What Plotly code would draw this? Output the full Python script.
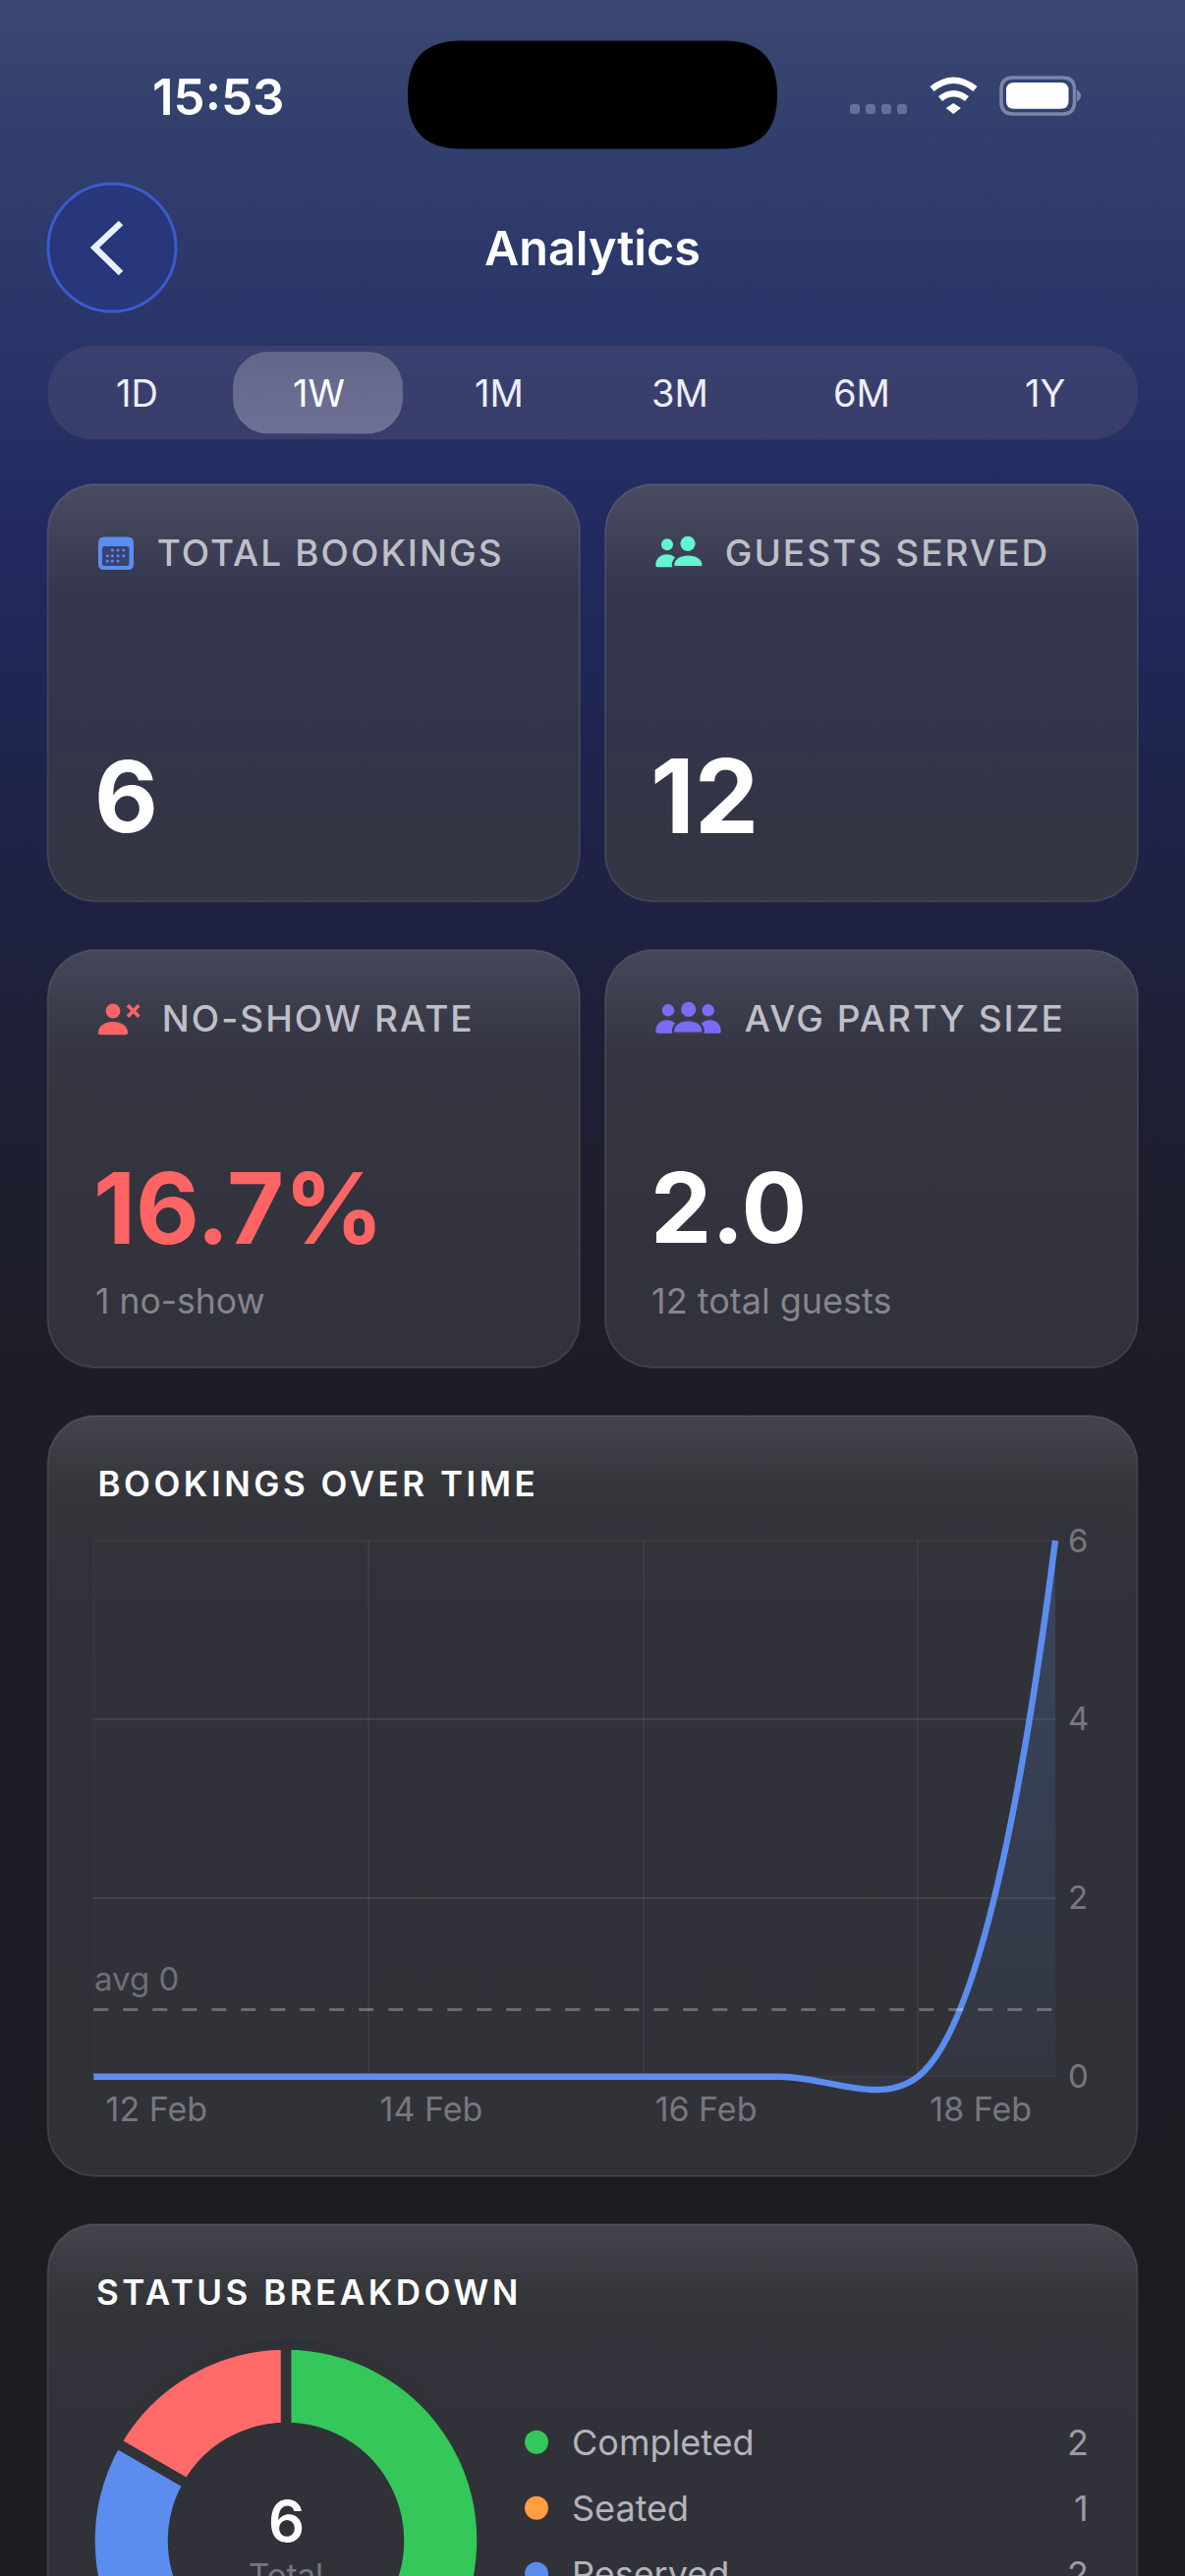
import numpy as np
import plotly.graph_objects as go

W = 1206
H = 2800  # page runs on past the window, the donut is cut by the viewport
FONT = "Inter"

# chart data
dates = ["2025-02-12", "2025-02-13", "2025-02-14", "2025-02-15",
         "2025-02-16", "2025-02-17", "2025-02-18", "2025-02-19"]
bookings = [0, 0, 0, 0, 0, 0, 0, 6]
avg_value = [0.75, 0.75]
avg_dates = ["2025-02-12", "2025-02-19"]
x_ticks = ["2025-02-12", "2025-02-14", "2025-02-16", "2025-02-18"]
x_labels = ["12 Feb", "14 Feb", "16 Feb", "18 Feb"]
y_ticks = [0, 2, 4, 6]

status_labels = ["Completed", "Seated", "Reserved", "No-show"]
status_values = [2, 1, 2, 1]
status_colors = ["#34c759", "#ff9f40", "#5b8def", "#ff6b6b"]

periods = ["1D", "1W", "1M", "3M", "6M", "1Y"]
period_x = [139, 324, 508, 692, 877, 1063]


def rounded(x0, y0, x1, y1, r):
    t = np.linspace(0, np.pi / 2, 14)
    xs = np.concatenate([x0 + r - r * np.cos(t), x1 - r + r * np.sin(t),
                         x1 - r + r * np.cos(t), x0 + r - r * np.sin(t), [x0]])
    ys = np.concatenate([y0 + r - r * np.sin(t), y0 + r - r * np.cos(t),
                         y1 - r + r * np.sin(t), y1 - r + r * np.cos(t), [y0 + r]])
    return xs, ys


def panel(x0, y0, x1, y1, r, scale, border="rgba(255,255,255,0.10)", bw=2):
    xs, ys = rounded(x0, y0, x1, y1, r)
    return go.Scatter(x=xs, y=ys, mode="lines", fill="toself",
                      fillgradient=dict(type="vertical", colorscale=scale, start=y0, stop=y1),
                      line=dict(color=border, width=bw), hoverinfo="skip", showlegend=False)


fig = go.Figure()

# page background
fig.add_trace(panel(0, 0, W, H, 0, [[0, "#394770"], [0.07, "#2f3c6c"], [0.13, "#293468"], [0.2, "#21295f"],
                                    [0.3, "#1f2347"], [0.4, "#1e1f33"], [0.5, "#1c1d25"], [1, "#1c1c22"]],
                    border="rgba(0,0,0,0)", bw=0))

# period selector
fig.add_trace(panel(48.5, 352, 1158, 447.5, 46, [[0, "#3a406f"], [1, "#383d6a"]], border="rgba(255,255,255,0)", bw=0))
fig.add_trace(panel(237, 358, 410, 441.5, 36, [[0, "#626789"], [1, "#6e7096"]], border="rgba(255,255,255,0)", bw=0))

# cards
top_row = [[0, "#4a4c62"], [0.25, "#35374e"], [0.6, "#33354a"], [1, "#343642"]]
mid_row = [[0, "#45465a"], [0.25, "#343540"], [1, "#31323a"]]
wide = [[0, "#44454c"], [0.1, "#34353b"], [0.25, "#313239"], [1, "#313238"]]
fig.add_trace(panel(48.5, 493, 590, 917.5, 48, top_row))
fig.add_trace(panel(616, 493, 1158, 917.5, 48, top_row))
fig.add_trace(panel(48.5, 967, 590, 1392, 48, mid_row))
fig.add_trace(panel(616, 967, 1158, 1392, 48, mid_row))
fig.add_trace(panel(48.5, 1441, 1157.5, 2215, 48, wide))
fig.add_trace(panel(48.5, 2264, 1157.5, 3038, 48, wide))

# bookings over time: grid and ticks on x2/y2, the curve on x3/y3 (same scale, wider box so the dip is not clipped)
fig.add_trace(go.Scatter(x=dates, y=bookings, xaxis="x3", yaxis="y3", mode="lines",
                         line=dict(color="#5b8def", width=6.5, shape="spline", smoothing=1),
                         fill="tozeroy",
                         fillgradient=dict(type="vertical", start=6, stop=0,
                                           colorscale=[[0, "rgba(91,141,239,0.22)"], [1, "rgba(91,141,239,0.05)"]]),
                         hoverinfo="skip", showlegend=False))
fig.add_trace(go.Scatter(x=avg_dates, y=avg_value, xaxis="x3", yaxis="y3", mode="lines",
                         line=dict(color="rgba(255,255,255,0.28)", width=3, dash="15px,15px"),
                         hoverinfo="skip", showlegend=False))

# status donut, stroke in the card colour makes the gaps
fig.add_trace(go.Pie(labels=status_labels, values=status_values, sort=False, direction="clockwise",
                     rotation=0, hole=0.5764, textinfo="none", hoverinfo="skip", showlegend=False,
                     marker=dict(colors=status_colors, line=dict(color="#313238", width=10.5)),
                     domain=dict(x=[91.5 / W, 490.5 / W], y=[(H - 2785.5) / H, (H - 2386.5) / H])))

shapes = []


def add_path(path, fill=None, line=None, lw=0):
    shapes.append(dict(type="path", path=path, xref="x", yref="y", layer="above",
                       fillcolor=fill or "rgba(0,0,0,0)",
                       line=dict(color=line or "rgba(0,0,0,0)", width=lw)))


def add_round(x0, y0, x1, y1, r, fill=None, line=None, lw=0):
    add_path(f"M {x0 + r} {y0} L {x1 - r} {y0} Q {x1} {y0} {x1} {y0 + r} L {x1} {y1 - r} Q {x1} {y1} {x1 - r} {y1} "
             f"L {x0 + r} {y1} Q {x0} {y1} {x0} {y1 - r} L {x0} {y0 + r} Q {x0} {y0} {x0 + r} {y0} Z", fill, line, lw)


def add_circle(cx, cy, r, fill=None, line=None, lw=0):
    shapes.append(dict(type="circle", xref="x", yref="y", layer="above", x0=cx - r, x1=cx + r, y0=cy - r, y1=cy + r,
                       fillcolor=fill or "rgba(0,0,0,0)", line=dict(color=line or "rgba(0,0,0,0)", width=lw)))


def add_body(x0, x1, yt, yb, fill, edge=None):
    cx = (x0 + x1) / 2
    w = x1 - x0
    add_path(f"M {x0} {yb - 2} C {x0} {yt + 4} {cx - w * 0.28} {yt} {cx} {yt} C {cx + w * 0.28} {yt} {x1} {yt + 4} {x1} {yb - 2} "
             f"Q {x1} {yb} {x1 - 2} {yb} L {x0 + 2} {yb} Q {x0} {yb} {x0} {yb - 2} Z", fill, edge, 2.5 if edge else 0)


# plotly drops gridlines sitting on the axis ends, put those back
for y_edge in [y_ticks[0], y_ticks[-1]]:
    shapes.append(dict(type="line", xref="x2", yref="y2", layer="below", x0=dates[0], x1=dates[-1], y0=y_edge, y1=y_edge,
                       line=dict(color="rgba(255,255,255,0.075)", width=1.5)))
shapes.append(dict(type="line", xref="x2", yref="y2", layer="below", x0=x_ticks[0], x1=x_ticks[0], y0=y_ticks[0], y1=y_ticks[-1],
                   line=dict(color="rgba(255,255,255,0.05)", width=1.5)))

# status bar
add_round(415, 41.5, 791, 151.5, 54, "#000000")
for dot_x in [865, 881, 897, 913]:
    add_round(dot_x, 106, dot_x + 10, 116, 3, "#66719a")
add_path("M 948.5 90.5 Q 970.5 73 992.5 90.5", None, "#ffffff", 6.5)
add_path("M 957 100.5 Q 970.5 90 984 100.5", None, "#ffffff", 6.5)
add_path("M 962.7 110 L 970.3 105 L 977.9 110 L 970.3 116 Z", "#ffffff")
add_round(1019, 79, 1093.5, 116, 12, None, "#7c86aa", 3.5)
add_round(1024, 84, 1087.5, 110.8, 8, "#ffffff")
add_path("M 1096 91.5 Q 1100 94 1100 97.5 Q 1100 101 1096 103.5 Z", "#7c86aa")

# back button
add_circle(114, 252, 65, "#27377a", "#3a5bd0", 3)
add_path("M 123 227 L 96.5 252 L 123 278", None, "#e8f0ff", 6.5)

# calendar icon
add_round(100, 546.5, 136, 580, 6, "#5b8def")
add_round(104, 556, 131.5, 576, 2.5, "#3a4272")
for row_y, cols in [(560, [114.3, 120, 125.7]), (565.7, [109.3, 114.3, 120, 125.7]), (571, [109.3, 114.3, 120])]:
    for col_x in cols:
        add_circle(col_x, row_y, 1.5, "#5b8def")

# guests icon
TEAL = "#63f5cf"
add_circle(679, 554.3, 6, TEAL)
add_circle(700, 553.3, 7.6, TEAL)
add_body(667.3, 690, 564.3, 577.3, TEAL)
add_body(685, 715.7, 564.3, 577.3, TEAL, "#3d3f58")

# no-show icon
CORAL = "#ff6464"
add_circle(115, 1029, 7.4, CORAL)
add_body(100, 130, 1040, 1053.3, CORAL)
add_path("M 130 1023.3 L 141.3 1034.7 M 141.3 1023.3 L 130 1034.7", None, CORAL, 3.6)

# party size icon
PURPLE = "#7b6cf6"
add_circle(680, 1028.3, 6.2, PURPLE)
add_circle(720.7, 1028.3, 6.2, PURPLE)
add_circle(700.7, 1027.3, 7.6, PURPLE)
add_body(667.3, 690, 1038.3, 1051.7, PURPLE)
add_body(711, 733.7, 1038.3, 1051.7, PURPLE)
add_body(685, 715.7, 1038.3, 1051.7, PURPLE, "#3c3d4d")

# status legend, the fourth row is below the window
for i, c in enumerate(status_colors[:3]):
    add_circle(546, 2485.7 + 67 * i, 12, c)

anns = []


def text(s, x, y, size, color, weight=400, anchor="left"):
    anns.append(dict(text=s, x=x, y=y, xref="x", yref="y", xanchor=anchor, yanchor="middle", showarrow=False,
                     font=dict(family=FONT, size=size, color=color, weight=weight)))


text("15:53", 222, 98, 51, "#ffffff", 600, "center")
text("Analytics", 603, 252, 48.5, "#ffffff", 600, "center")
for p, px in zip(periods, period_x):
    text(p, px, 400, 38, "#ffffff" if p == "1W" else "#eceef8", 400, "center")

# spaced labels are centred, the letter spacing in post_script grows them both ways
LABEL = "#bfbfc7"
text("TOTAL BOOKINGS", 336, 562, 37, LABEL, 500, "center")
text("GUESTS SERVED", 903, 562, 37, LABEL, 500, "center")
text("NO-SHOW RATE", 323.5, 1036, 37, LABEL, 500, "center")
text("AVG PARTY SIZE", 920.5, 1036, 37, LABEL, 500, "center")
text("6", 94, 810, 100, "#ffffff", 700)
text("12", 660, 810, 104, "#ffffff", 700)
text("16.7%", 93, 1229, 100, "#ff6464", 700)
text("2.0", 660, 1229, 99, "#ffffff", 700)
text("1 no-show", 95, 1324, 35.5, "#85858d")
text("12 total guests", 661, 1324, 36, "#85858d")

text("BOOKINGS OVER TIME", 323.5, 1510, 35, "#ffffff", 600, "center")
text("avg 0", 94, 2014, 33, "#6f6f77")
text("STATUS BREAKDOWN", 314, 2333, 35, "#ffffff", 600, "center")
text("6", 291, 2566, 58, "#ffffff", 600, "center")
text("Total", 291, 2621, 33, "#77777f", 400, "center")

for i, (lab, val) in enumerate(zip(status_labels[:3], status_values[:3])):
    text(lab, 579.5, 2485.7 + 67 * i, 36, "#b4b4bc")
    text(str(val), 1110, 2485.7 + 67 * i, 36, "#9a9aa2", 400, "right")

fig.update_layout(
    template="none",
    width=W, height=H, autosize=False,
    margin=dict(l=0, r=0, t=0, b=0, pad=0),
    paper_bgcolor="#1c1c22", plot_bgcolor="rgba(0,0,0,0)",
    showlegend=False, hovermode=False,
    shapes=shapes, annotations=anns,
    xaxis=dict(range=[0, W], domain=[0, 1], visible=False, fixedrange=True, automargin=False),
    yaxis=dict(range=[H, 0], domain=[0, 1], visible=False, fixedrange=True, automargin=False),
    xaxis2=dict(type="date", range=[dates[0], dates[-1]], anchor="y2",
                domain=[95.3 / W, 1074 / W], automargin=False,
                tickmode="array", tickvals=x_ticks, ticktext=x_labels,
                ticks="", showline=False, zeroline=False,
                showgrid=True, gridcolor="rgba(255,255,255,0.05)", gridwidth=1.5,
                tickfont=dict(family=FONT, size=34, color="#77777f"),
                ticklabelshift=64, ticklabelstandoff=10, fixedrange=True),
    yaxis2=dict(range=[0, 6], anchor="x2", side="right",
                domain=[(H - 2113.7) / H, (H - 1568) / H], automargin=False,
                tickmode="array", tickvals=y_ticks,
                ticks="", showline=False, zeroline=False,
                showgrid=True, gridcolor="rgba(255,255,255,0.075)", gridwidth=1.5,
                tickfont=dict(family=FONT, size=33, color="#77777f"),
                ticklabelstandoff=12, fixedrange=True),
    xaxis3=dict(type="date", range=["2025-02-11 12:00", "2025-02-19 12:00"], anchor="y3",
                domain=[25.4 / W, 1143.9 / W], visible=False, fixedrange=True, automargin=False),
    yaxis3=dict(range=[-1, 7], anchor="x3", domain=[(H - 2204.65) / H, (H - 1477.05) / H],
                visible=False, fixedrange=True, automargin=False),
)

# no margin on the page, crop to the window, spaced capitals on the section labels
post = """
document.documentElement.style.overflow = 'hidden';
document.body.style.margin = '0';
document.body.style.overflow = 'hidden';
document.querySelectorAll('.annotation-text').forEach(function (t) {
    var s = t.textContent;
    if (s === s.toUpperCase() && s.length > 8) {
        t.style.letterSpacing = (s.indexOf('OVER') > -1 || s.indexOf('STATUS') > -1) ? '3.5px' : '2.05px';
    }
});
"""
fig.write_html("out.html", post_script=post, config=dict(displayModeBar=False, responsive=False))
